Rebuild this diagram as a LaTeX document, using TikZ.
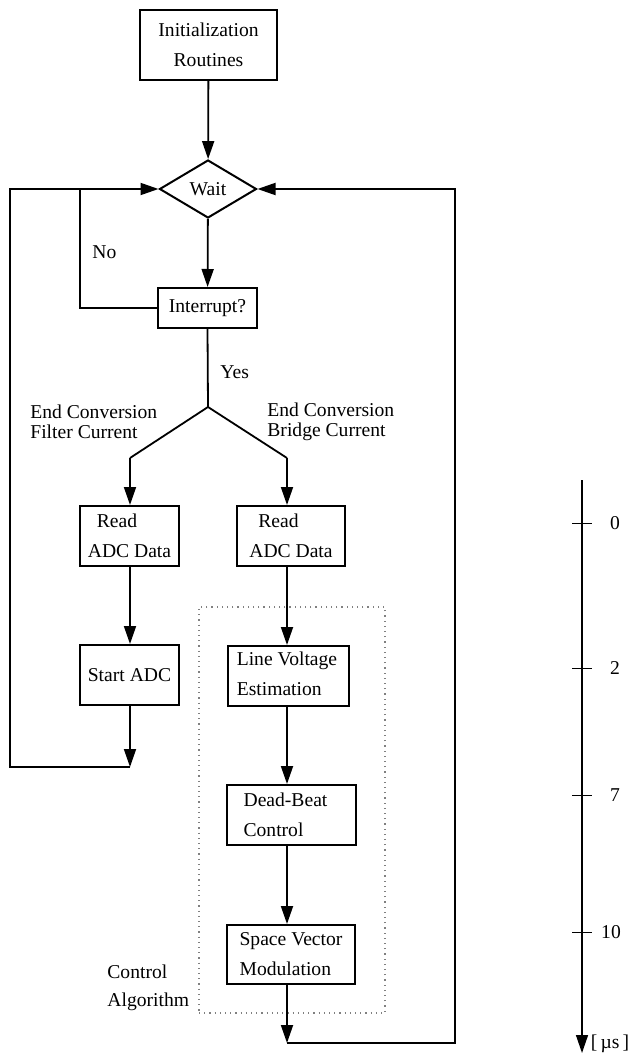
\documentclass[tikz,border=0pt]{standalone}
\usepackage{fontspec}
\setmainfont{Liberation Serif}
\usetikzlibrary{arrows.meta,shapes.geometric}
\begin{document}
\begin{tikzpicture}[x=0.5pt,y=-0.5pt,
  font=\fontsize{9.8}{15}\selectfont,
  box/.style={draw,line width=1pt,inner sep=2pt},
  lbl/.style={inner sep=0pt,anchor=west,align=left,font=\fontsize{9.8}{10}\selectfont},
  ln/.style={line width=0.9pt},
  arr/.style={ln,-{Triangle[length=9pt,width=6pt]}},
  tick/.style={line width=0.5pt}]
\useasboundingbox (0,0) rectangle (636,1053);
% dotted region
\node[draw=gray,dotted,line width=0.6pt,minimum width=93pt,minimum height=203pt,inner sep=0pt] (reg) at (292,810) {};
% nodes
\node[box,minimum width=68.5pt,minimum height=35pt,align=center] (init) at (208.5,45) {Initialization\\Routines};
\node[draw,line width=1pt,diamond,minimum width=48.5pt,minimum height=29pt,inner sep=0pt] (wait) at (208,189) {Wait};
\node[box,minimum width=49.5pt,minimum height=20pt] (intr) at (207.5,308) {Interrupt?};
\node[box,minimum width=49.5pt,minimum height=30pt,align=left] (lread) at (129.5,536) {\hspace{4.5pt}Read\\ADC Data};
\node[box,minimum width=54pt,minimum height=30pt,align=left] (rread) at (291,536) {\hspace{4.5pt}Read\\ADC Data};
\node[box,minimum width=49.5pt,minimum height=30pt] (sadc) at (129.5,675) {Start ADC};
\node[box,minimum width=60.5pt,minimum height=30pt,align=left] (lve) at (288.5,676) {Line Voltage\\Estimation\phantom{ge}};
\node[box,minimum width=64.5pt,minimum height=30pt,align=left] (dbc) at (291.5,815) {Dead-Beat\\Control\phantom{Beat}};
\node[box,minimum width=64pt,minimum height=29.5pt,align=left] (svm) at (291,954.5) {Space Vector\\Modulation\phantom{r}};
% labels
\node[lbl] (no) at (92,252) {No};
\node[lbl] (yes) at (220,372) {Yes};
\node[lbl] (ecf) at (30,422) {End Conversion\\Filter Current};
\node[lbl] (ecb) at (267,422) {End Conversion\\Bridge Current};
\node[lbl,font=\fontsize{9.8}{14}\selectfont] (ca) at (107,988) {Control\\Algorithm};
% coordinates
\coordinate (br) at (208,407);
\coordinate (bl) at (130,458);
\coordinate (bri) at (287,458);
\coordinate (s1) at (130,767);
\coordinate (s2) at (10,767);
\coordinate (s3) at (10,189);
\coordinate (n1) at (80,308);
\coordinate (n2) at (80,189);
\coordinate (e1) at (287,1043);
\coordinate (e2) at (455,1043);
\coordinate (e3) at (455,189);
% connectors
\draw[arr] (init) -- (wait);
\draw[arr] (wait) -- (intr);
\draw[ln] (intr.west) -- (n1) -- (n2);
\draw[ln] (intr.south) -- (br) -- (bl);
\draw[ln] (br) -- (bri);
\draw[arr] (bl) -- (lread.north -| bl);
\draw[arr] (bri) -- (rread.north -| bri);
\draw[arr] (lread.south -| bl) -- (sadc.north -| bl);
\draw[arr] (sadc.south -| bl) -- (s1);
\draw[arr] (s1) -- (s2) -- (s3) -- (wait.west);
\draw[arr] (rread.south -| bri) -- (lve.north -| bri);
\draw[arr] (lve.south -| bri) -- (dbc.north -| bri);
\draw[arr] (dbc.south -| bri) -- (svm.north -| bri);
\draw[arr] (svm.south -| bri) -- (e1);
\draw[arr] (e1) -- (e2) -- (e3) -- (wait.east);
% time axis
\coordinate (t0) at (582,480);
\coordinate (t1) at (582,1053);
\draw[line width=0.7pt,-{Triangle[length=9pt,width=6pt]}] (t0) -- (t1);
\foreach \yy/\lab/\xx in {523/0/615,668/2/615,795/7/615,932/10/611}{
  \draw[tick] (572,\yy) -- (592,\yy);
  \node[inner sep=0pt] (tl\lab) at (\xx,\yy) {\lab};
}
\node[inner sep=0pt] (unit) at (610,1044) {[\,µs\,]};
\end{tikzpicture}
\end{document}
